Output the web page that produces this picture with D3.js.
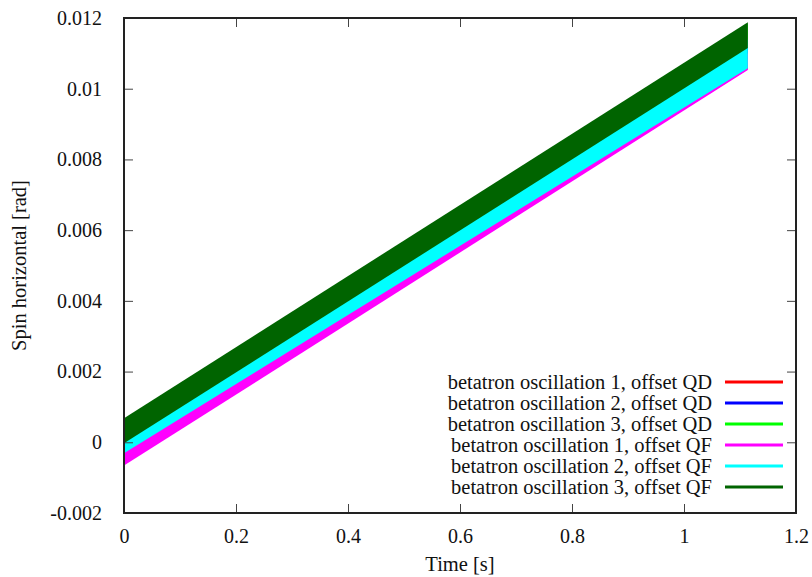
<!DOCTYPE html>
<html>
<head>
<meta charset="utf-8">
<script src="https://cdn.jsdelivr.net/npm/d3@7"></script>
<style>
  body { margin: 0; background: #fff; }
</style>
</head>
<body>
<svg id="chart" width="812" height="577"></svg>
<script>
// time range covered by every run [s]
var timeSpan = [0, 1.114];

var seriesNames = [
    "betatron oscillation 1, offset QD",
    "betatron oscillation 2, offset QD",
    "betatron oscillation 3, offset QD",
    "betatron oscillation 1, offset QF",
    "betatron oscillation 2, offset QF",
    "betatron oscillation 3, offset QF"
];
var seriesColors = ["#ff0000", "#0000ff", "#00ff00", "#ff00ff", "#00ffff", "#006400"];

// envelope of the fast oscillation: value at start and at end of timeSpan [rad]
var lowerStart = [-0.0006, -0.00028, 0.00000, -0.00066, -0.00031, -0.00003];
var lowerEnd   = [0.01055, 0.01060, 0.01117, 0.01053, 0.01058, 0.01115];
var upperStart = [-0.0002, 0.00010, 0.00065, -0.00010, 0.00020, 0.00068];
var upperEnd   = [0.01090, 0.01120, 0.01185, 0.01100, 0.01140, 0.01188];

var xTicks = [0, 0.2, 0.4, 0.6, 0.8, 1, 1.2];
var yTicks = [-0.002, 0, 0.002, 0.004, 0.006, 0.008, 0.01, 0.012];

var serif = "'Liberation Serif', 'Times New Roman', Times, 'DejaVu Serif', serif";

var svg = d3.select("svg"),
    margin = {left: 124, right: 16, top: 18, bottom: 64},
    width = +svg.attr("width") - margin.left - margin.right,
    height = +svg.attr("height") - margin.top - margin.bottom;

var x = d3.scaleLinear().domain([0, 1.2]).range([0, width]);
var y = d3.scaleLinear().domain([-0.002, 0.012]).range([height, 0]);

var g = svg.append("g").attr("transform", "translate(" + margin.left + "," + margin.top + ")");

// bands
var area = d3.area()
    .x(function(d) { return x(d.t); })
    .y0(function(d) { return y(d.lo); })
    .y1(function(d) { return y(d.hi); });

seriesNames.forEach(function(name, i) {
    var pts = [
        {t: timeSpan[0], lo: lowerStart[i], hi: upperStart[i]},
        {t: timeSpan[1], lo: lowerEnd[i], hi: upperEnd[i]}
    ];
    g.append("path")
        .datum(pts)
        .attr("d", area)
        .attr("fill", seriesColors[i]);
});

// ticks on all four sides, pointing inward
function fmt(d) { return String(d); }
function noDomain(a) { a.select(".domain").remove(); a.attr("font-family", serif).attr("font-size", 20); }

g.append("g")
    .attr("transform", "translate(0," + height + ")")
    .call(d3.axisBottom(x).tickValues(xTicks).tickSize(-9).tickPadding(16).tickFormat(fmt))
    .call(noDomain);
g.append("g")
    .call(d3.axisTop(x).tickValues(xTicks).tickSize(-9).tickFormat(""))
    .call(noDomain);
g.append("g")
    .call(d3.axisLeft(y).tickValues(yTicks).tickSize(-9).tickPadding(22).tickFormat(fmt))
    .call(noDomain);
g.append("g")
    .attr("transform", "translate(" + width + ",0)")
    .call(d3.axisRight(y).tickValues(yTicks).tickSize(-9).tickFormat(""))
    .call(noDomain);

g.selectAll(".tick line").attr("stroke", "#444").attr("stroke-width", 1);
g.selectAll(".tick text").attr("fill", "#111");

// frame
g.append("rect")
    .attr("width", width).attr("height", height)
    .attr("fill", "none").attr("stroke", "#222").attr("stroke-width", 2);

// axis titles
svg.append("text")
    .attr("x", margin.left + width / 2).attr("y", 571)
    .attr("text-anchor", "middle").attr("font-size", 20.5)
    .attr("font-family", serif).attr("fill", "#111")
    .text("Time [s]");
svg.append("text")
    .attr("transform", "translate(26," + (margin.top + height / 2) + ") rotate(-90)")
    .attr("text-anchor", "middle").attr("font-size", 20.5)
    .attr("font-family", serif).attr("fill", "#111")
    .text("Spin horizontal [rad]");

// legend
var legend = svg.append("g").attr("transform", "translate(0,382)");
seriesNames.forEach(function(name, i) {
    var row = legend.append("g").attr("transform", "translate(0," + (i * 21) + ")");
    row.append("text")
        .attr("x", 712).attr("dy", "0.35em")
        .attr("text-anchor", "end").attr("font-size", 20.5)
        .attr("font-family", serif).attr("fill", "#111")
        .text(name);
    row.append("line")
        .attr("x1", 725).attr("x2", 783)
        .attr("stroke", seriesColors[i]).attr("stroke-width", 3);
});
</script>
</body>
</html>
